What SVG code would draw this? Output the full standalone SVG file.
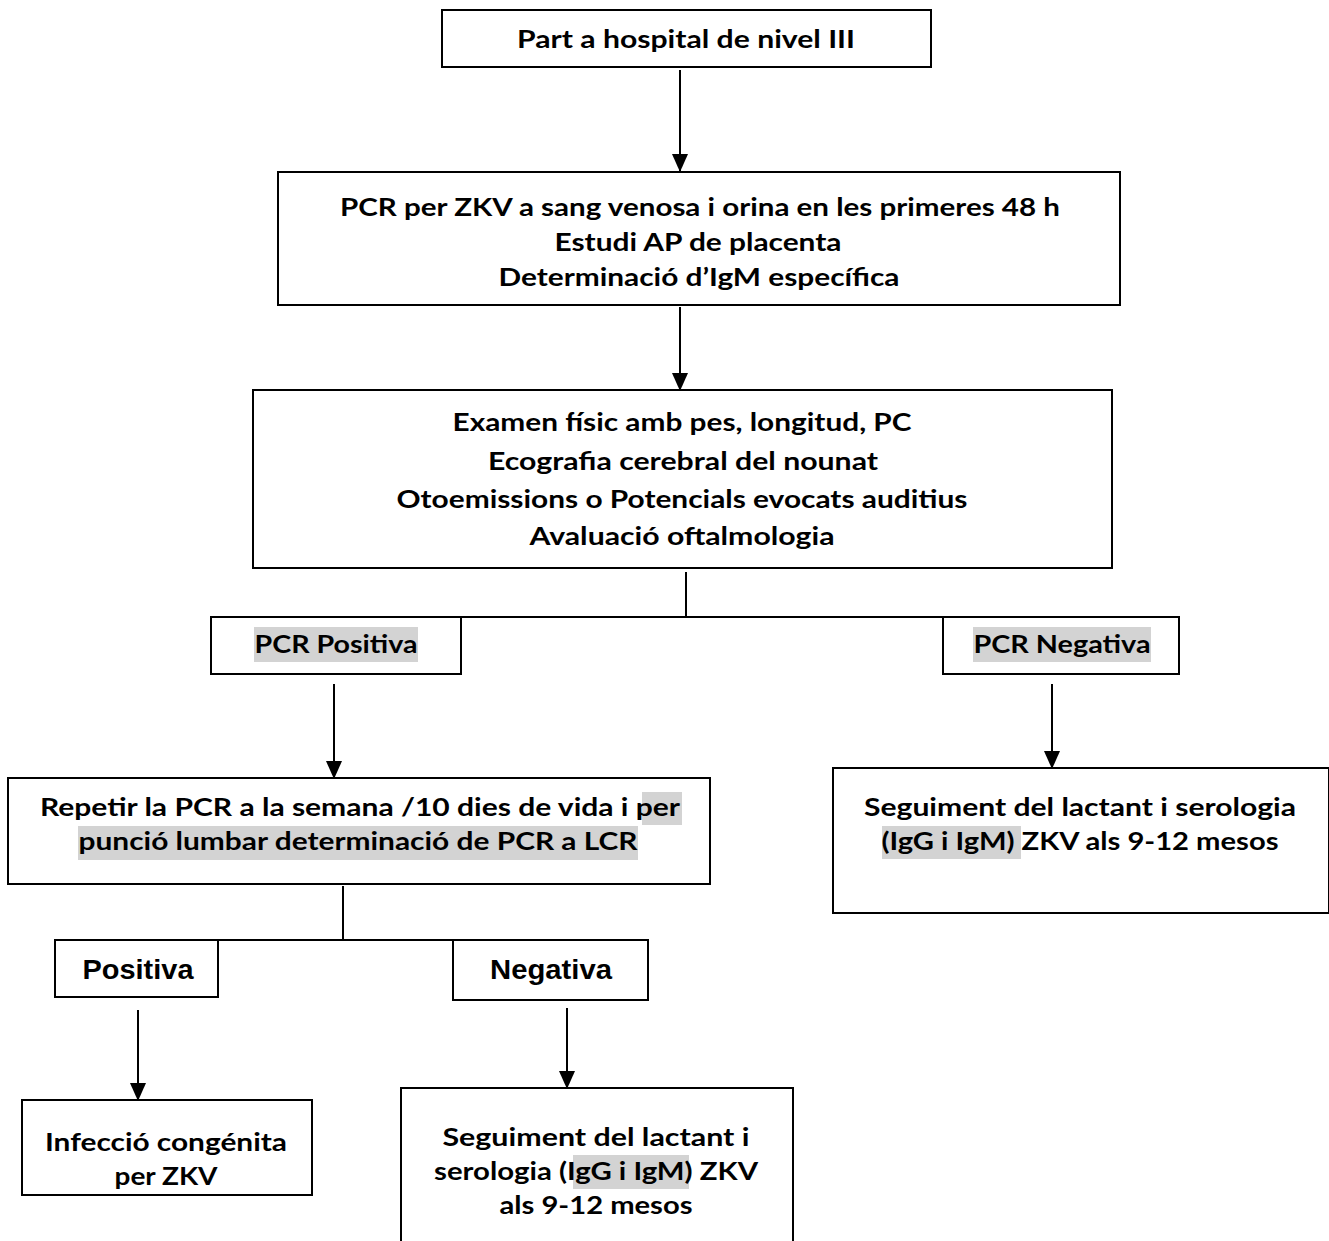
<svg xmlns="http://www.w3.org/2000/svg" width="1329" height="1241" viewBox="0 0 1329 1241">
<style>
.box{fill:#fff;stroke:#000;stroke-width:2}
.t{font-family:Lato,"Open Sans","Liberation Sans",sans-serif;font-weight:bold;font-size:24px;fill:#000;text-anchor:middle}
.a{font-family:"Liberation Sans",Arial,sans-serif;font-weight:bold;font-size:28px;fill:#000;text-anchor:middle}
.hl{fill:#d3d3d3}
.c{stroke:#000;stroke-width:2;fill:none}
</style>
<defs>
<marker id="ah" markerWidth="18" markerHeight="16" refX="17" refY="8" orient="auto" markerUnits="userSpaceOnUse">
<path d="M0,0 L18,8 L0,16 Z" fill="#000"/>
</marker>
</defs>
<rect width="1329" height="1241" fill="#fff"/>
<g id="connectors">
<line class="c" x1="680" y1="70" x2="680" y2="171" marker-end="url(#ah)"/>
<line class="c" x1="680" y1="307" x2="680" y2="390" marker-end="url(#ah)"/>
<line class="c" x1="686" y1="572" x2="686" y2="617"/>
<line class="c" x1="461" y1="617" x2="943" y2="617"/>
<line class="c" x1="334" y1="684" x2="334" y2="778" marker-end="url(#ah)"/>
<line class="c" x1="1052" y1="684" x2="1052" y2="768" marker-end="url(#ah)"/>
<line class="c" x1="343" y1="886" x2="343" y2="940"/>
<line class="c" x1="218" y1="940" x2="453" y2="940"/>
<line class="c" x1="138" y1="1010" x2="138" y2="1100" marker-end="url(#ah)"/>
<line class="c" x1="567" y1="1008" x2="567" y2="1088" marker-end="url(#ah)"/>
</g>
<g id="n1">
<rect class="box" x="442" y="10" width="489" height="57"/>
<text class="t" x="686" y="48" textLength="338" lengthAdjust="spacingAndGlyphs">Part a hospital de nivel III</text>
</g>
<g id="n2">
<rect class="box" x="278" y="172" width="842" height="133"/>
<text class="t" x="700" y="216" textLength="720" lengthAdjust="spacingAndGlyphs">PCR per ZKV a sang venosa i orina en les primeres 48 h</text>
<text class="t" x="698" y="251" textLength="287" lengthAdjust="spacingAndGlyphs">Estudi AP de placenta</text>
<text class="t" x="699" y="286" textLength="401" lengthAdjust="spacingAndGlyphs">Determinació d’IgM específica</text>
</g>
<g id="n3">
<rect class="box" x="253" y="390" width="859" height="178"/>
<text class="t" x="682" y="431" textLength="459" lengthAdjust="spacingAndGlyphs">Examen físic amb pes, longitud, PC</text>
<text class="t" x="683" y="470" textLength="390" lengthAdjust="spacingAndGlyphs">Ecografia cerebral del nounat</text>
<text class="t" x="682" y="508" textLength="571" lengthAdjust="spacingAndGlyphs">Otoemissions o Potencials evocats auditius</text>
<text class="t" x="682" y="545" textLength="305" lengthAdjust="spacingAndGlyphs">Avaluació oftalmologia</text>
</g>
<g id="n4">
<rect class="box" x="211" y="617" width="250" height="57"/>
<rect class="hl" x="254" y="627" width="164" height="35"/>
<text class="t" x="336" y="653" textLength="163" lengthAdjust="spacingAndGlyphs">PCR Positiva</text>
</g>
<g id="n5">
<rect class="box" x="943" y="617" width="236" height="57"/>
<rect class="hl" x="973" y="627" width="178" height="35"/>
<text class="t" x="1062" y="653" textLength="177" lengthAdjust="spacingAndGlyphs">PCR Negativa</text>
</g>
<g id="n6">
<rect class="box" x="8" y="778" width="702" height="106"/>
<rect class="hl" x="642" y="792" width="40" height="33"/>
<rect class="hl" x="78" y="826" width="560" height="34"/>
<text class="t" x="360" y="816" textLength="640" lengthAdjust="spacingAndGlyphs">Repetir la PCR a la semana /10 dies de vida i per</text>
<text class="t" x="358" y="850" textLength="559" lengthAdjust="spacingAndGlyphs">punció lumbar determinació de PCR a LCR</text>
</g>
<g id="n7">
<rect class="box" x="833" y="768" width="496" height="145"/>
<rect class="hl" x="882" y="826" width="139" height="33"/>
<text class="t" x="1080" y="816" textLength="432" lengthAdjust="spacingAndGlyphs">Seguiment del lactant i serologia</text>
<text class="t" x="1080" y="850" textLength="397" lengthAdjust="spacingAndGlyphs">(IgG i IgM) ZKV als 9-12 mesos</text>
</g>
<g id="n8">
<rect class="box" x="55" y="940" width="163" height="57"/>
<text class="a" x="138" y="979" textLength="111" lengthAdjust="spacingAndGlyphs">Positiva</text>
</g>
<g id="n9">
<rect class="box" x="453" y="940" width="195" height="60"/>
<text class="a" x="551" y="979" textLength="122" lengthAdjust="spacingAndGlyphs">Negativa</text>
</g>
<g id="n10">
<rect class="box" x="22" y="1100" width="290" height="95"/>
<text class="t" x="166" y="1151" textLength="242" lengthAdjust="spacingAndGlyphs">Infecció congénita</text>
<text class="t" x="166" y="1185" textLength="103" lengthAdjust="spacingAndGlyphs">per ZKV</text>
</g>
<g id="n11">
<rect class="box" x="401" y="1088" width="392" height="160"/>
<rect class="hl" x="573" y="1155" width="116" height="34"/>
<text class="t" x="596" y="1146" textLength="307" lengthAdjust="spacingAndGlyphs">Seguiment del lactant i</text>
<text class="t" x="596" y="1180" textLength="324" lengthAdjust="spacingAndGlyphs">serologia (IgG i IgM) ZKV</text>
<text class="t" x="596" y="1214" textLength="193" lengthAdjust="spacingAndGlyphs">als 9-12 mesos</text>
</g>
</svg>
